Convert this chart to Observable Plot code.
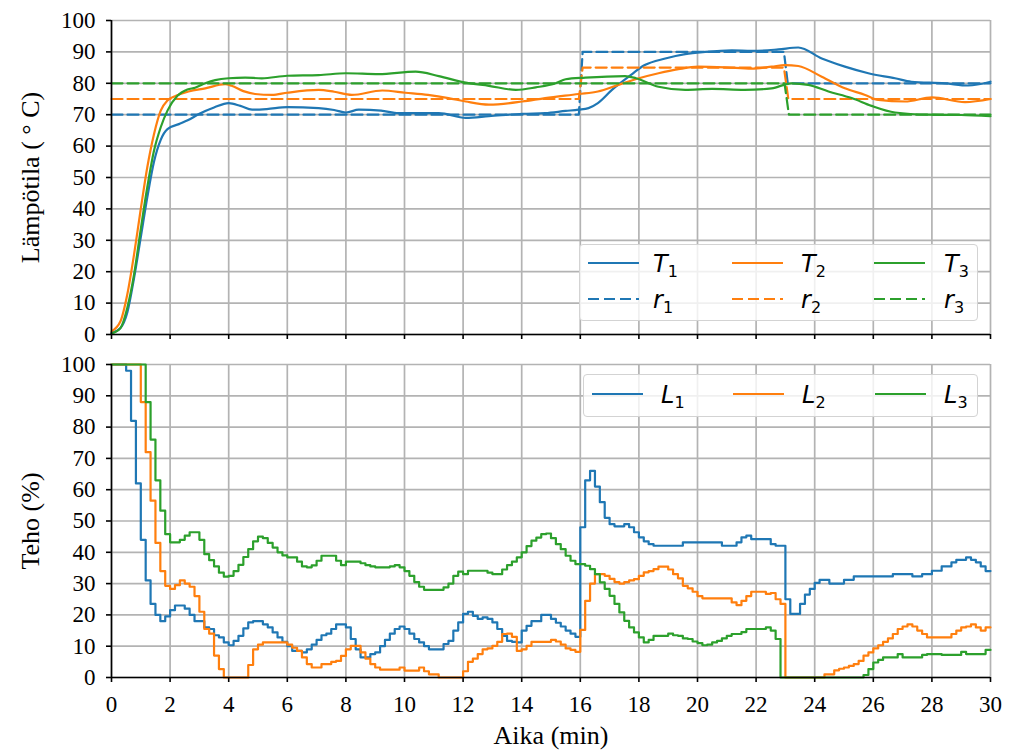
<!DOCTYPE html>
<html><head><meta charset="utf-8">
<script src="https://cdn.jsdelivr.net/npm/d3@7"></script>
<script src="https://cdn.jsdelivr.net/npm/@observablehq/plot@0.6"></script>
<style>
body{margin:0;background:#fff;}
#chart{position:relative;width:1011px;height:756px;overflow:hidden;}
#chart svg.plot{position:absolute;left:0;}
.legend{position:absolute;background:rgba(255,255,255,0.8);border:1px solid #d3d3d3;border-radius:4px;box-sizing:border-box;}
</style></head><body><div id="chart"></div>
<script>
// ---- ticks ----
const xTicks = [0,2,4,6,8,10,12,14,16,18,20,22,24,26,28,30];
const yTicks = [0,10,20,30,40,50,60,70,80,90,100];
const colors = ["#1f77b4","#ff7f0e","#2ca02c"];

// ---- temperatures [min, °C] ----
const T1 = [[0,0.5],[0.3,2],[0.54,7],[0.77,18],[1.0,31],[1.22,43.6],[1.45,55],[1.68,62],[1.91,65.4],[2.3,67],[2.6,68.2],[3.0,70.3],[3.5,72.3],[4.0,73.7],[4.4,72.8],[4.8,71.6],[5.3,71.8],[6.0,72.4],[7.07,72.1],[7.6,71.5],[8.0,70.7],[8.44,71.6],[9.2,71.3],[9.8,70.5],[11.17,70.5],[12.09,69],[12.88,69.5],[14.02,70.3],[14.8,70.5],[15.5,71.2],[15.94,71.6],[16.28,72.1],[16.6,73.7],[17.08,77.9],[17.65,82.1],[18.2,85.8],[18.9,87.9],[19.58,89.3],[20.26,90],[21.17,90.5],[21.85,90.3],[22.76,90.8],[23.44,91.4],[24.24,87.9],[25.03,85.3],[25.83,83.2],[26.74,81.6],[27.3,80.5],[28.44,80],[29.24,79.3],[30,80.5]];
const T2 = [[0,1],[0.31,4.3],[0.54,12.8],[0.77,25.5],[0.99,39.4],[1.22,53.2],[1.45,63.8],[1.68,71.3],[1.91,74.5],[2.2,76],[2.63,77.4],[3.2,78.4],[3.88,79.7],[4.1,79.2],[4.5,77.5],[4.9,76.6],[5.48,76.3],[6.0,77],[7.07,77.9],[7.6,77.3],[8.2,76.3],[9.24,77.7],[10.03,77],[10.8,76.3],[11.5,75.3],[12.09,74.2],[12.88,73.2],[14.02,74.2],[14.8,75.3],[15.94,76.6],[16.6,77.4],[17.3,79.5],[18,81.6],[18.67,83.2],[19.35,84.5],[20.03,85.3],[20.94,85.1],[21.85,84.7],[22.53,85.3],[22.99,85.8],[23.44,85.5],[24.24,82.1],[25.03,78.4],[25.72,76.3],[26.17,74.7],[27.08,74.2],[28,75.5],[29.13,74],[30,75]];
const T3 = [[0,0.3],[0.31,2.1],[0.54,8.5],[0.77,19.1],[0.99,33],[1.22,46.8],[1.45,58.5],[1.68,66],[1.91,71.3],[2.25,76],[2.59,78],[2.85,78.6],[3.2,80],[3.54,81],[4.0,81.6],[4.56,81.8],[5.13,81.6],[6.0,82.4],[7.07,82.6],[8.0,83.2],[9.12,82.9],[10.38,83.7],[11.17,82.3],[12.09,80.2],[12.88,79.2],[13.8,77.9],[14.48,78.7],[15.16,80],[15.5,81.3],[16.17,81.8],[17.53,82.3],[17.9,81.6],[18.67,78.9],[19.58,77.9],[20.5,78.2],[21.6,77.9],[22.53,78.4],[23.2,80],[23.78,79.5],[24.47,77.4],[25.26,75.3],[25.94,72.8],[26.74,70.7],[27.88,70],[29,69.9],[30,69.5]];
// ---- setpoints ----
const R1 = [[0,70],[15.95,70],[16.08,90],[22.95,90],[23.08,80],[30,80]];
const R2 = [[0,75],[15.95,75],[16.08,85],[22.95,85],[23.1,75],[30,75]];
const R3 = [[0,80],[22.97,80],[23.12,70],[30,70]];

// ---- power (%), one value per 10 s sample ----
const dt = 1/6;
const L1 = [100,100,100,98,82,62,44,31,23.5,20,
18,19.5,21.5,23,23,22,20,18,18,16,
15.5,13.5,12.8,11.2,10.3,11.7,13.3,15.7,17.6,18,
18,17,16,14.4,12.8,11.4,10,8.5,8.5,8,
9,10.5,12,13.5,14,15.5,17,17,16,12.3,
9,6.4,6.4,7.5,8,10,12,14,15.5,16.3,
15.5,14,12.3,11.2,10,9,9,9,10.7,11.7,
15,17.6,20.3,21,19.7,18.7,19.2,18.7,17.6,15.5,
13.3,11.7,11.4,11.2,15,16.5,18,18,20,20,
18.7,17.5,16.3,15,14,13,48,63,66,61,
56,51,49,48.3,48.3,49,48,46.4,44.8,43.5,
42.6,42.1,42.1,42.1,42.1,42.1,42.1,43.2,43.2,43.2,
43.2,43.2,43.2,43.2,43.2,42.1,42.1,42.1,43.2,44.8,
45.3,44.2,44.2,44.2,44.2,42.6,42.1,42.1,25,20.3,
20.3,23.5,26.5,28.3,30.2,31.2,31.2,30,30,30,
31.2,31.2,32.3,32.3,32.3,32.3,32.3,32.3,32.3,32.3,
33,33,33,33,32.3,32.3,33,33,34.1,34.1,
35.5,35.5,36.8,37.6,37.6,38.4,37.6,36.8,35.5,34];
const L2 = [100,100,100,100,100,100,88,72,56.5,43,
34,29.3,28.3,29.5,31,30,29,26,21,15.5,
14,7,2.7,0,0,0,0,0,4,9,
10.5,11.2,11.2,11.2,11.2,11.2,10.5,9.5,8.5,6.4,
4.3,3.2,3.2,4.3,4.3,5,5.3,6.9,9,10.1,
10.1,8,6,4.3,3.2,2.5,2.5,2.5,2.5,3.2,
2.2,2.2,2.2,3.2,2,1,1,0,0,0,
0,0,2,5,6,7.5,9,9.3,10.1,11.4,
13.9,14,13,8.5,9,10.1,11.4,11.4,11.4,11.4,
12,11.5,10.5,9.3,8.8,8.2,15.2,24.5,30,33,
33,32.5,31.5,30.5,30,30.5,31,31.4,32.5,33.6,
34,34.6,35.4,35.4,34.5,33,31.7,29.3,28.5,27.4,
26,25.3,25.3,25.3,25.3,25.3,25.3,24,23.1,24.5,
26,27.4,27.4,27.4,26.7,27,25,23.5,0,0,
0,0,0,0,0,0,1,1,2.3,2.8,
3.2,3.7,4.3,5.3,7,8,9.3,10.3,11.4,12.5,
13.9,15.5,16.3,17,16.3,15,13.9,12.8,12.8,12.8,
12.8,12.8,13.9,15,16,16.3,17,16,15,16];
const L3 = [100,100,100,100,100,100,100,88,76,63,
53.3,45.8,43.2,43.2,44,45.3,46.4,46.4,44,39.4,
37.5,35.5,33.5,32.2,32.5,34,36,38.5,41,43.5,
45,44.5,43,41.5,40,39,38.4,38.4,37,35.5,
35.2,35.8,37.3,38.9,38.9,38.9,37.3,35.9,37,37,
37,36.5,35.9,35.5,35.2,35.2,35.2,35.5,35.9,35.2,
34,32.5,30.5,29,28,28,28,28,28.8,30,
32.5,33.8,33,34.1,34.1,34.1,34.1,33.5,33,33,
34.5,35.9,37,38.4,40,42,43.7,44.7,45.8,46,
44.5,42.6,41,38.9,37.3,36.2,36.2,35.7,34.6,33,
30.4,28.3,26.1,23.5,20.8,18.1,16,14.4,12.8,11.2,
12,13.3,13.3,13.3,14,13.5,13.3,12.5,12.3,11.5,
11,10.3,10.5,11.2,11.7,12.5,13.3,13.9,13.9,14.5,
15.5,15.5,15.5,15.5,16,15,12.3,0,0,0,
0,0,0,0,0,0,0,0,0,0,
0,0,0,0,0.8,2.7,4.8,5.6,6.4,6.4,
6.4,7.5,6.4,6.4,6.4,6.4,7.2,7.5,7.5,7.5,
7.2,7.2,7.2,7.2,8.2,7.5,7.5,7.5,7.5,8.8];

const tempSeries = [[1,T1,R1],[2,T2,R2],[3,T3,R3]];
const powerSeries = [L1,L2,L3];

const pts = pairs => pairs.map(([t,v]) => ({t, v}));
const stepPts = vals => { const p = vals.map((v,i)=>({t:i*dt, v})); p.push({t:30, v:vals[vals.length-1]}); return p; };

const LW = 2.2, DASH = "11,5";
const LABEL_FS = 26;
const common = {
  width: 1011, marginLeft: 111, marginRight: 21,
  x: {domain:[0,30]}, y: {domain:[0,100]},
  style: {fontFamily: "'Liberation Serif','Times New Roman',serif", fontSize: "23px", color: "black", background: "transparent", overflow: "visible"}
};
const grid = () => [
  Plot.gridX(xTicks, {stroke:"#b3b3b3", strokeOpacity:1, strokeWidth:1.7}),
  Plot.gridY(yTicks, {stroke:"#b3b3b3", strokeOpacity:1, strokeWidth:1.7})
];
const spines = () => [
  Plot.ruleX([0], {stroke:"black", strokeWidth:1.6}),
  Plot.ruleY([0], {stroke:"black", strokeWidth:1.6})
];

const topMarks = [...grid()];
tempSeries.forEach(([i, T, R]) => {
  topMarks.push(Plot.line(pts(T), {x:"t", y:"v", stroke: colors[i-1], strokeWidth: LW, curve: "monotone-x"}));
  topMarks.push(Plot.line(pts(R), {x:"t", y:"v", stroke: colors[i-1], strokeWidth: LW, strokeDasharray: DASH}));
});
topMarks.push(
  Plot.axisX({ticks: xTicks, tickSize: 5, tickFormat: () => "", label: null, strokeWidth: 1.6}),
  Plot.axisY({ticks: yTicks, tickSize: 5, tickPadding: 11, label: null, strokeWidth: 1.6}),
  ...spines(),
  Plot.text(["Lämpötila ( ° C)"], {text: d => d, frameAnchor: "left", textAnchor: "middle", dx: -81, rotate: -90, fontSize: LABEL_FS})
);
// top panel: frame y 20..334
const topPlot = Plot.plot({...common, height: 352, marginTop: 20, marginBottom: 18, marks: topMarks});

const botMarks = [...grid()];
powerSeries.forEach((L, i) => {
  botMarks.push(Plot.line(stepPts(L), {x:"t", y:"v", stroke: colors[i], strokeWidth: LW, curve: "step-after"}));
});
botMarks.push(
  Plot.axisX({ticks: xTicks, tickSize: 5, tickPadding: 13, label: null, strokeWidth: 1.6}),
  Plot.axisY({ticks: yTicks, tickSize: 5, tickPadding: 11, label: null, strokeWidth: 1.6}),
  ...spines(),
  Plot.text(["Teho (%)"], {text: d => d, frameAnchor: "left", textAnchor: "middle", dx: -81, rotate: -90, fontSize: LABEL_FS}),
  Plot.text(["Aika (min)"], {text: d => d, frameAnchor: "bottom", textAnchor: "middle", dy: 66, fontSize: LABEL_FS})
);
// bottom panel placed at 348: frame y 364..677
const botPlot = Plot.plot({...common, height: 408, marginTop: 16, marginBottom: 79, marks: botMarks});

const chart = document.getElementById("chart");
topPlot.classList.add("plot"); topPlot.style.top = "0px";
botPlot.classList.add("plot"); botPlot.style.top = "348px";
chart.appendChild(botPlot); chart.appendChild(topPlot);

// ---- legends ----
function legend(box, entries) {
  const div = document.createElement("div");
  div.className = "legend";
  Object.assign(div.style, {left: box.x+"px", top: box.y+"px", width: box.w+"px", height: box.h+"px"});
  let s = `<svg width="${box.w}" height="${box.h}" style="position:absolute;left:-1px;top:-1px;overflow:visible">`;
  for (const e of entries) {
    const lx = e.lx - box.x, ly = e.ly - box.y, tx = e.tx - box.x;
    s += `<line x1="${lx}" x2="${lx+51}" y1="${ly}" y2="${ly}" stroke="${e.color}" stroke-width="${LW}" ${e.dashed ? `stroke-dasharray="${DASH}"` : ""}/>`;
    s += `<text x="${tx}" y="${ly+9}" font-family="DejaVu Sans" font-size="24" fill="black"><tspan font-style="italic">${e.sym}</tspan><tspan font-size="16" dy="5">${e.sub}</tspan></text>`;
  }
  s += "</svg>";
  div.innerHTML = s;
  chart.appendChild(div);
}
const lineX = [588, 732, 874], textX = [653, 801, 944];
const topEntries = [];
[0,1,2].forEach(i => {
  topEntries.push({lx: lineX[i], ly: 263, tx: textX[i], color: colors[i], dashed: false, sym: "T", sub: i+1});
  topEntries.push({lx: lineX[i], ly: 299, tx: textX[i], color: colors[i], dashed: true, sym: "r", sub: i+1});
});
legend({x: 579, y: 244, w: 399, h: 77}, topEntries);
const botLineX = [592, 733, 875], botTextX = [661, 802, 944];
legend({x: 583, y: 374, w: 395, h: 43}, [0,1,2].map(i => ({lx: botLineX[i], ly: 394, tx: botTextX[i], color: colors[i], dashed: false, sym: "L", sub: i+1})));
</script></body></html>
